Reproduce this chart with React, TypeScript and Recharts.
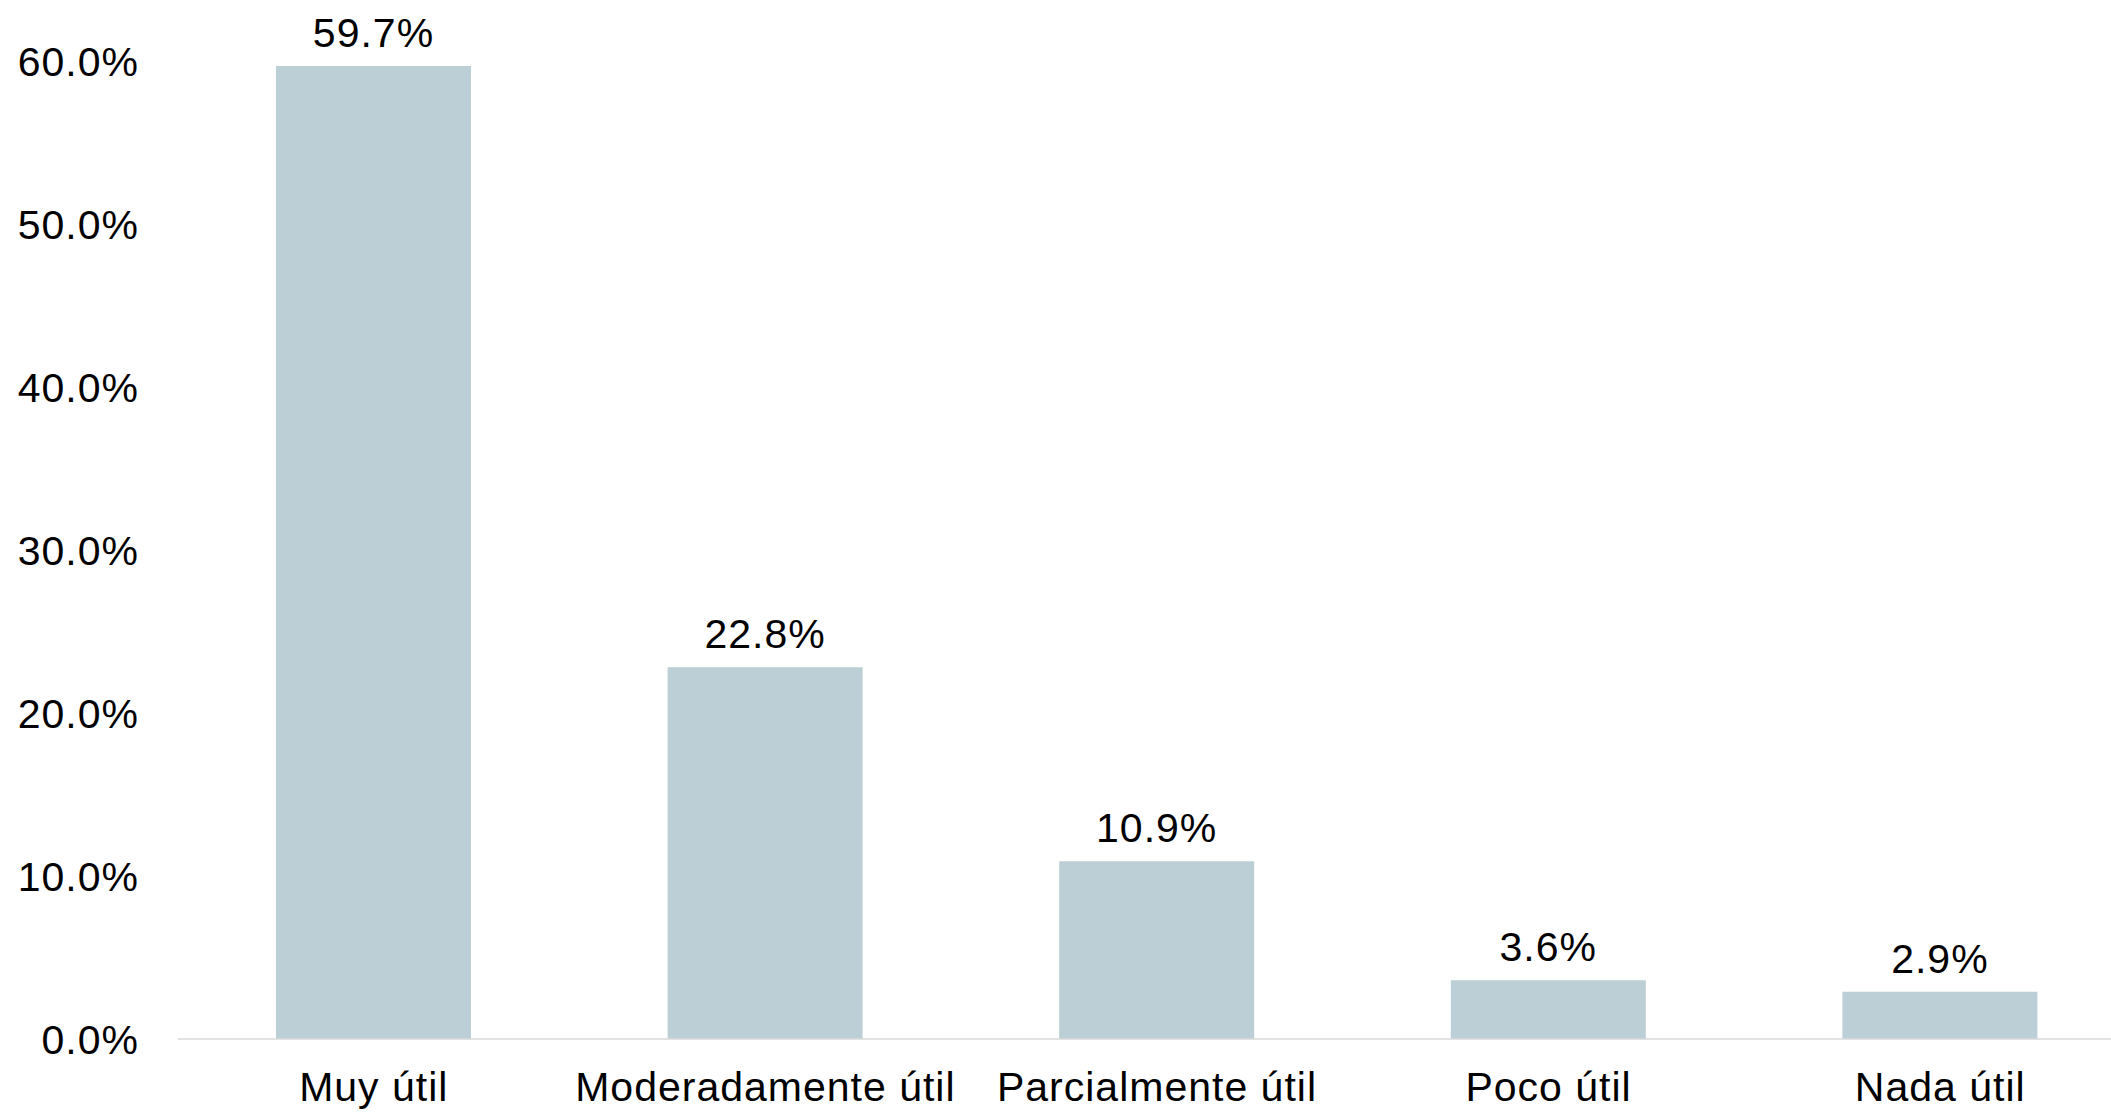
import React from 'react';
import { BarChart, Bar, XAxis, YAxis, LabelList } from 'recharts';

const categories = ['Muy útil', 'Moderadamente útil', 'Parcialmente útil', 'Poco útil', 'Nada útil'];
const values = [59.7, 22.8, 10.9, 3.6, 2.9];
const yTicks = [0, 10, 20, 30, 40, 50, 60];

const data = categories.map((name, i) => ({ name, value: values[i] }));

const FONT = '"Liberation Sans", Arial, sans-serif';
const pct = (v: number) => `${Number(v).toFixed(1)}%`;
const textStyle = { fill: '#000', fontSize: 41, fontFamily: FONT, letterSpacing: 1 };

export default function App() {
  return (
    <div
      style={{
        position: 'absolute',
        left: 0,
        top: 0,
        width: 2111,
        height: 1113,
        overflow: 'hidden',
        background: '#fff',
      }}
    >
      <BarChart
        width={2140}
        height={1113}
        data={data}
        margin={{ top: 61, right: 4, left: 0, bottom: 0 }}
      >
        <XAxis
          dataKey="name"
          height={74}
          axisLine={{ stroke: '#D9D9D9', strokeWidth: 1.5 }}
          tickLine={false}
          tickSize={0}
          tickMargin={33}
          interval={0}
          tick={textStyle}
        />
        <YAxis
          width={178}
          domain={[0, 60]}
          ticks={yTicks}
          axisLine={false}
          tickLine={false}
          tickSize={0}
          tickMargin={39}
          tickFormatter={pct}
          tick={textStyle}
        />
        <Bar dataKey="value" fill="#BDCFD6" barSize={195} isAnimationActive={false}>
          <LabelList
            dataKey="value"
            position="top"
            offset={19}
            formatter={(v: any) => pct(v)}
            style={textStyle}
          />
        </Bar>
      </BarChart>
    </div>
  );
}
